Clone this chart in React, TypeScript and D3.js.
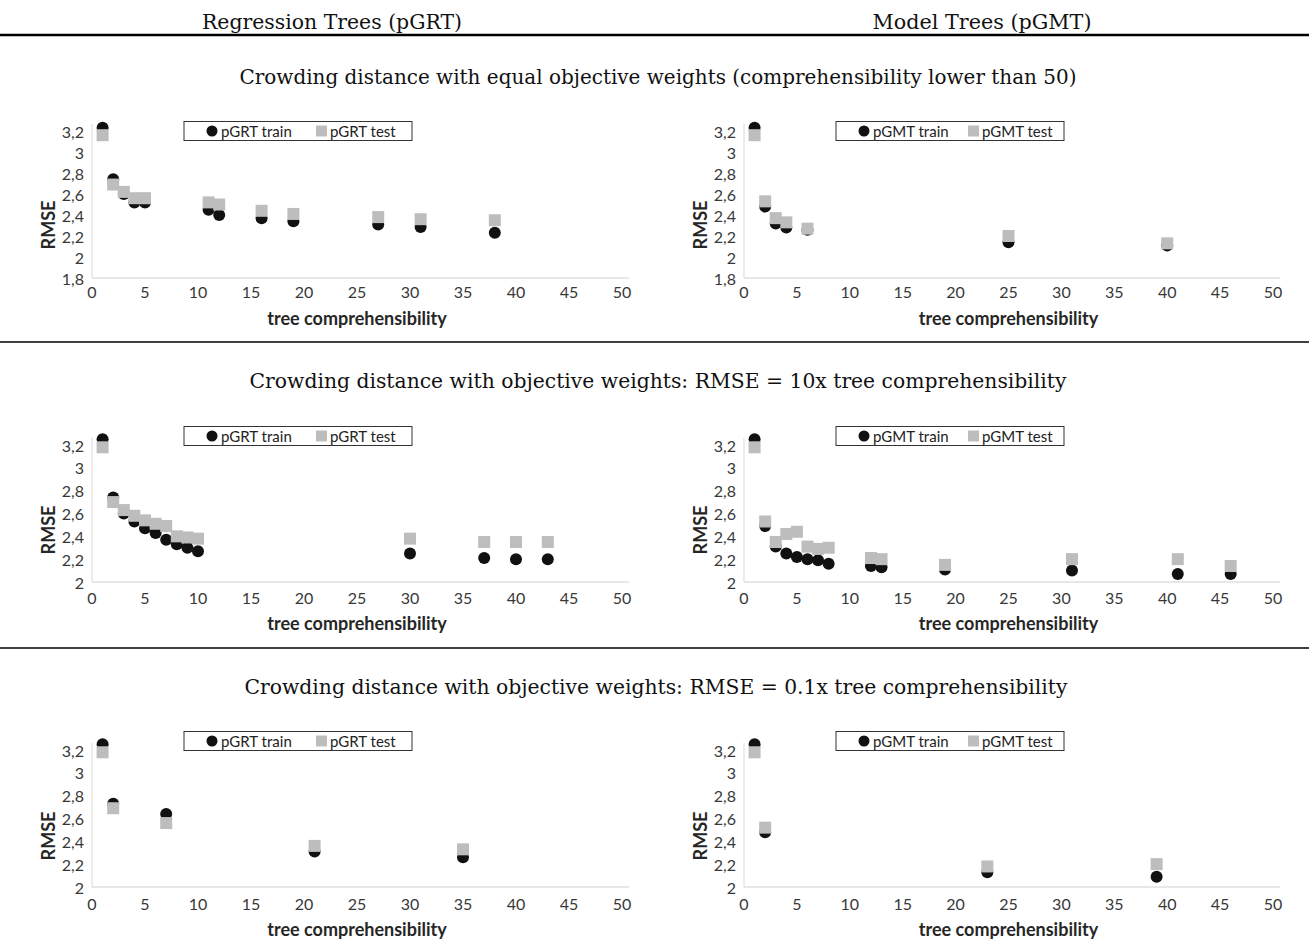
import React from 'react';
import * as d3 from 'd3';

// tree comprehensibility (x) and RMSE values
const eqGrtX = [1, 2, 3, 4, 5, 11, 12, 16, 19, 27, 31, 38];
const eqGrtTrain = [3.23, 2.74, 2.6, 2.52, 2.52, 2.45, 2.4, 2.37, 2.34, 2.31, 2.285, 2.23];
const eqGrtTest = [3.16, 2.69, 2.62, 2.56, 2.56, 2.52, 2.5, 2.44, 2.41, 2.38, 2.36, 2.35];

const eqGmtX = [1, 2, 3, 4, 6, 25, 40];
const eqGmtTrain = [3.23, 2.48, 2.32, 2.28, 2.26, 2.14, 2.11];
const eqGmtTest = [3.16, 2.53, 2.37, 2.33, 2.27, 2.2, 2.13];

const w10GrtX = [1, 2, 3, 4, 5, 6, 7, 8, 9, 10, 30, 37, 40, 43];
const w10GrtTrain = [3.25, 2.74, 2.6, 2.53, 2.47, 2.43, 2.37, 2.33, 2.3, 2.27, 2.25, 2.21, 2.2, 2.2];
const w10GrtTest = [3.18, 2.7, 2.63, 2.58, 2.54, 2.51, 2.49, 2.4, 2.39, 2.38, 2.38, 2.35, 2.35, 2.35];

const w10GmtX = [1, 2, 3, 4, 5, 6, 7, 8, 12, 13, 19, 31, 41, 46];
const w10GmtTrain = [3.25, 2.49, 2.31, 2.25, 2.22, 2.2, 2.19, 2.16, 2.14, 2.13, 2.11, 2.1, 2.07, 2.07];
const w10GmtTest = [3.18, 2.53, 2.35, 2.42, 2.44, 2.31, 2.29, 2.3, 2.21, 2.2, 2.15, 2.2, 2.2, 2.14];

const w01GrtX = [1, 2, 7, 21, 35];
const w01GrtTrain = [3.25, 2.73, 2.64, 2.31, 2.26];
const w01GrtTest = [3.18, 2.69, 2.56, 2.36, 2.33];

const w01GmtX = [1, 2, 23, 39];
const w01GmtTrain = [3.25, 2.48, 2.13, 2.09];
const w01GmtTest = [3.18, 2.52, 2.18, 2.2];

const xTicks = [0, 5, 10, 15, 20, 25, 30, 35, 40, 45, 50];
const yTicksEq = [1.8, 2, 2.2, 2.4, 2.6, 2.8, 3, 3.2];
const yTicksW = [2, 2.2, 2.4, 2.6, 2.8, 3, 3.2];

const headers = ['Regression Trees (pGRT)', 'Model Trees (pGMT)'];
const rowTitles = [
  'Crowding distance with equal objective weights (comprehensibility lower than 50)',
  'Crowding distance with objective weights: RMSE = 10x tree comprehensibility',
  'Crowding distance with objective weights: RMSE = 0.1x tree comprehensibility',
];
const seriesNames = [['pGRT train', 'pGRT test'], ['pGMT train', 'pGMT test']];

const W = 1309;
const H = 952;
const SANS = 'Lato, "Open Sans", sans-serif';
const SERIF = '"DejaVu Serif", "Liberation Serif", serif';

// layout for each row: y of top tick / bottom tick, label positions
const rows = [
  { titleY: 77, titleX: 658, titleW: 837, top: 131, bottom: 278, yTicks: yTicksEq, legendY: 131, xLabY: 291, xTitleY: 318, rmseY: 225, sepY: 342,
    data: [[eqGrtX, eqGrtTrain, eqGrtTest], [eqGmtX, eqGmtTrain, eqGmtTest]] },
  { titleY: 381, titleX: 658, titleW: 817, top: 445, bottom: 582, yTicks: yTicksW, legendY: 436, xLabY: 597, xTitleY: 623, rmseY: 530, sepY: 648,
    data: [[w10GrtX, w10GrtTrain, w10GrtTest], [w10GmtX, w10GmtTrain, w10GmtTest]] },
  { titleY: 687, titleX: 656, titleW: 823, top: 750, bottom: 887, yTicks: yTicksW, legendY: 741, xLabY: 903, xTitleY: 929, rmseY: 836, sepY: null,
    data: [[w01GrtX, w01GrtTrain, w01GrtTest], [w01GmtX, w01GmtTrain, w01GmtTest]] },
];
const cols = [
  { x0: 92, x50: 622, legendX: 184, headX: 332, headW: 260 },
  { x0: 744, x50: 1273, legendX: 836, headX: 982, headW: 219 },
];

const fmt = (v: number) => String(+v.toFixed(1)).replace('.', ',');

function Panel({ row, col, ci }: { row: any; col: any; ci: number }) {
  const [xs, train, test] = row.data[ci];
  const x = d3.scaleLinear().domain([0, 50]).range([col.x0, col.x50]);
  const yTicks: number[] = row.yTicks;
  const y = d3.scaleLinear().domain([yTicks[0], 3.2]).range([row.bottom, row.top]);
  const sym = d3.symbol().type(d3.symbolCircle).size(Math.PI * 36);
  const names = seriesNames[ci];
  const lx = col.legendX;
  return (
    <g>
      <line x1={x(0)} x2={x(0)} y1={y(3.2) - 7} y2={y(yTicks[0])} stroke="#d9d9d9" strokeWidth={1} />
      <line x1={x(0)} x2={x(50) + 7} y1={y(yTicks[0])} y2={y(yTicks[0])} stroke="#d0d0d0" strokeWidth={1} />
      {yTicks.map((t) => (
        <text key={t} x={x(0) - 8} y={y(t)} textAnchor="end" dominantBaseline="central" fontSize={16} fill="#383838" fontFamily={SANS}>
          {fmt(t)}
        </text>
      ))}
      {xTicks.map((t) => (
        <text key={t} x={x(t)} y={row.xLabY} textAnchor="middle" dominantBaseline="central" fontSize={16} fill="#383838" fontFamily={SANS}>
          {t}
        </text>
      ))}
      <text x={(x(0) + x(50)) / 2} y={row.xTitleY} textAnchor="middle" dominantBaseline="central" fontSize={18} fontWeight="bold" fill="#262626" fontFamily={SANS}>
        tree comprehensibility
      </text>
      <text transform={`translate(${x(0) - 44},${row.rmseY}) rotate(-90)`} textAnchor="middle" dominantBaseline="central" fontSize={18} fontWeight="bold" fill="#262626" fontFamily={SANS}>
        RMSE
      </text>
      {xs.map((v: number, i: number) => (
        <path key={'c' + i} d={sym()!} transform={`translate(${x(v)},${y(train[i])})`} fill="#111" />
      ))}
      {xs.map((v: number, i: number) => (
        <rect key={'s' + i} x={x(v) - 6} y={y(test[i]) - 6} width={12} height={12} fill="#bdbdbd" />
      ))}
      <rect x={lx} y={row.legendY - 9.5} width={228} height={19} fill="#fff" stroke="#333" strokeWidth={1} />
      <circle cx={lx + 28} cy={row.legendY} r={5.5} fill="#111" />
      <text x={lx + 37} y={row.legendY} dominantBaseline="central" fontSize={15} fill="#222" fontFamily={SANS}>
        {names[0]}
      </text>
      <rect x={lx + 132} y={row.legendY - 5.5} width={11} height={11} fill="#bdbdbd" />
      <text x={lx + 146} y={row.legendY} dominantBaseline="central" fontSize={15} fill="#222" fontFamily={SANS}>
        {names[1]}
      </text>
    </g>
  );
}

export default function App() {
  return (
    <svg width={W} height={H} style={{ position: 'absolute', left: 0, top: 0, background: '#fff' }}>
      <rect width={W} height={H} fill="#fff" />
      {cols.map((col, ci) => (
        <text key={ci} x={col.headX} y={22} textAnchor="middle" dominantBaseline="central" fontSize={20} fontFamily={SERIF} fill="#111"
          textLength={col.headW} lengthAdjust="spacingAndGlyphs">
          {headers[ci]}
        </text>
      ))}
      <line x1={0} x2={W} y1={35} y2={35} stroke="#000" strokeWidth={2.5} />
      {rows.map((row, ri) => (
        <g key={ri}>
          <text x={row.titleX} y={row.titleY} textAnchor="middle" dominantBaseline="central" fontSize={20} fontFamily={SERIF} fill="#111"
            textLength={row.titleW} lengthAdjust="spacingAndGlyphs">
            {rowTitles[ri]}
          </text>
          {cols.map((col, ci) => (
            <Panel key={ci} row={row} col={col} ci={ci} />
          ))}
          {row.sepY !== null && <line x1={0} x2={W} y1={row.sepY} y2={row.sepY} stroke="#000" strokeWidth={1.5} />}
        </g>
      ))}
    </svg>
  );
}
